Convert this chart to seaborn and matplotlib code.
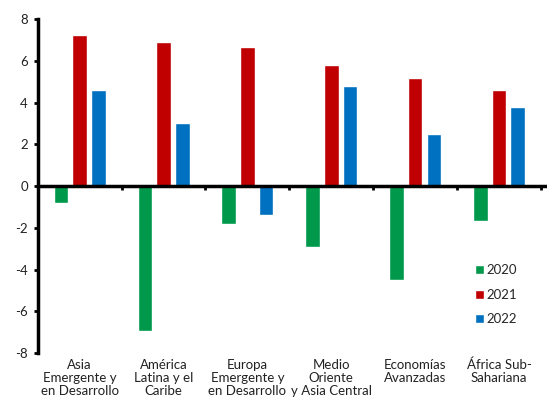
import matplotlib
matplotlib.use("Agg")
import matplotlib.pyplot as plt
import seaborn as sns
import pandas as pd

categories = ["Asia\nEmergente y\nen Desarrollo", "América\nLatina y el\nCaribe",
              "Europa\nEmergente y\nen Desarrollo", "Medio\nOriente\ny Asia Central",
              "Economías\nAvanzadas", "África Sub-\nSahariana"]
years = ["2020", "2021", "2022"]
v2020 = [-0.8, -6.95, -1.8, -2.9, -4.5, -1.65]
v2021 = [7.25, 6.9, 6.65, 5.8, 5.2, 4.6]
v2022 = [4.6, 3.0, -1.4, 4.8, 2.5, 3.8]
colors = ["#00994C", "#C00000", "#0070C0"]
yticks = [-8, -6, -4, -2, 0, 2, 4, 6, 8]

rows = []
for yr, vals in zip(years, [v2020, v2021, v2022]):
    for c, v in zip(categories, vals):
        rows.append({"cat": c, "year": yr, "val": v})
df = pd.DataFrame(rows)

sns.set_style("white")
plt.rcParams['font.family'] = ['Lato', 'DejaVu Sans']

fig = plt.figure(figsize=(5.47, 4.05), dpi=100)
ax = fig.add_axes([0.069, 0.128, 0.92, 0.825])

sns.barplot(data=df, x="cat", y="val", hue="year", palette=colors, ax=ax,
            width=0.67, gap=0.22, saturation=1, order=categories, hue_order=years)

ax.set_ylim(-8, 8)
ax.set_xlim(-0.5, 5.5)
ax.set_yticks(yticks)
ax.set_yticklabels([str(t) for t in yticks], fontsize=9.5, color="#222222")
ax.tick_params(axis="y", direction="out", length=3, width=2, color="black", pad=4, left=True)
ax.set_xlabel("")
ax.set_ylabel("")

for s in ["top", "right"]:
    ax.spines[s].set_visible(False)
ax.spines["left"].set_linewidth(2.5)
ax.spines["left"].set_color("black")
ax.spines["bottom"].set_position(("data", 0))
ax.spines["bottom"].set_linewidth(2.5)
ax.spines["bottom"].set_color("black")
ax.spines["bottom"].set_bounds(-0.5, 5.55)
ax.set_xticks([0.5, 1.5, 2.5, 3.5, 4.5, 5.5])
ax.set_xticklabels([])
ax.tick_params(axis="x", direction="out", length=3, width=2, color="black", bottom=True)

sec = ax.secondary_xaxis("bottom")
sec.set_xticks(range(len(categories)))
sec.set_xticklabels(categories, fontsize=9.5, color="#222222", linespacing=1.1)
sec.tick_params(length=0, pad=4)
sec.spines["bottom"].set_visible(False)

ax.legend(loc="upper left", bbox_to_anchor=(0.868, 0.266), frameon=False, fontsize=9.5,
          handlelength=0.7, handleheight=0.7, handletextpad=0.2, labelspacing=0.95,
          borderaxespad=0, borderpad=0)
ax.grid(False)

fig.savefig("out.png", dpi=100)
